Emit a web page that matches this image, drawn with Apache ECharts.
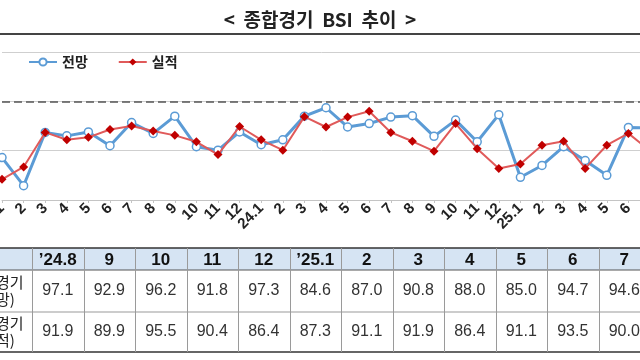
<!DOCTYPE html>
<html>
<head>
<meta charset="utf-8">
<script src="https://cdn.jsdelivr.net/npm/echarts@6/dist/echarts.min.js"></script>
<style>
html,body{margin:0;padding:0;background:#fff;}
#c{width:640px;height:360px;}
</style>
</head>
<body>
<div id="c"></div>
<script>
// ---- data ----
const categories = ['23.1','2','3','4','5','6','7','8','9','10','11','12',
  '24.1','2','3','4','5','6','7','8','9','10','11','12',
  '25.1','2','3','4','5','6','7'];
const forecast = [88.6, 82.9, 93.7, 93.0, 93.8, 91.0, 95.7, 93.5, 97.0, 90.8, 90.1, 93.8,
  91.2, 92.2, 97.0, 98.7, 94.8, 95.5, 96.8, 97.1, 92.9, 96.2, 91.8, 97.3,
  84.6, 87.0, 90.8, 88.0, 85.0, 94.7, 94.6];
const actual = [84.2, 86.7, 93.7, 92.2, 92.7, 94.3, 95.0, 94.0, 93.1, 91.8, 89.2, 94.9,
  92.2, 90.1, 96.9, 94.8, 96.8, 98.0, 93.7, 91.9, 89.9, 95.5, 90.4, 86.4,
  87.3, 91.1, 91.9, 86.4, 91.1, 93.5, 90.0];
const seriesNames = ['전망', '실적'];
const tableCols = ['’24.8','9','10','11','12','’25.1','2','3','4','5','6','7'];
const tableFcst = ['97.1','92.9','96.2','91.8','97.3','84.6','87.0','90.8','88.0','85.0','94.7','94.6'];
const tableAct  = ['91.9','89.9','95.5','90.4','86.4','87.3','91.1','91.9','86.4','91.1','93.5','90.0'];
const rowLabels = ['종합경기\n(전망)', '종합경기\n(실적)'];
const titleText = '<  종합경기  BSI  추이  >';

// ---- table graphics (layout computed) ----
const KR = '"Noto Sans CJK KR", sans-serif';
const NUM = '"Liberation Sans", Arial, sans-serif';
const tTop = 248, hBot = 270, r1Bot = 312, tBot = 352;
const firstL = -40, firstR = 32, colW = 51.5;
const g = [];
// title underline
g.push({type:'line', shape:{x1:0,y1:34,x2:640,y2:34}, style:{stroke:'#444', lineWidth:2}});
// header background
g.push({type:'rect', shape:{x:firstL, y:tTop, width:firstR - firstL + colW*tableCols.length, height:hBot - tTop}, style:{fill:'#d6e4f3'}});
// horizontal lines
[[tTop,'#333',1.5],[hBot,'#555',1],[r1Bot,'#999',1],[tBot,'#333',1.5]].forEach(function(h){
  g.push({type:'line', shape:{x1:firstL,y1:h[0],x2:700,y2:h[0]}, style:{stroke:h[1], lineWidth:h[2]}});
});
// vertical lines
for (let i = 0; i <= tableCols.length; i++) {
  const x = Math.round(firstR + colW*i) + 0.5;
  g.push({type:'line', shape:{x1:x,y1:tTop,x2:x,y2:tBot}, style:{stroke:'#9a9a9a', lineWidth:1}});
}
// row labels
[[hBot, r1Bot],[r1Bot, tBot]].forEach(function(r, k){
  g.push({type:'text', x:(firstL+firstR)/2, y:(r[0]+r[1])/2, style:{text:rowLabels[k], fill:'#222', font:'15px '+KR, align:'center', verticalAlign:'middle', lineHeight:17}});
});
tableCols.forEach(function(c, i){
  const cx = firstR + colW*i + colW/2;
  g.push({type:'text', x:cx, y:(tTop+hBot)/2+1, style:{text:c, fill:'#111', font:'bold 17px '+NUM, align:'center', verticalAlign:'middle'}});
  g.push({type:'text', x:cx, y:(hBot+r1Bot)/2, style:{text:tableFcst[i], fill:'#333', font:'16px '+NUM, align:'center', verticalAlign:'middle'}});
  g.push({type:'text', x:cx, y:(r1Bot+tBot)/2, style:{text:tableAct[i], fill:'#333', font:'16px '+NUM, align:'center', verticalAlign:'middle'}});
});

const chart = echarts.init(document.getElementById('c'), null, {renderer:'canvas'});
chart.setOption({
  animation: false,
  backgroundColor: '#fff',
  title: {
    text: titleText, left: 'center', top: 5,
    textStyle: {fontFamily: KR, fontSize: 19, fontWeight: 'bold', color: '#222'}
  },
  legend: {
    left: 23, top: 50, itemWidth: 28, itemHeight: 9, itemGap: 30,
    textStyle: {fontFamily: KR, fontSize: 14, fontWeight: 'bold', color: '#222'},
    data: seriesNames
  },
  grid: {left: 2, right: -10, top: 52, bottom: 160, outerBoundsMode: 'none', containLabel: false},
  xAxis: {
    type: 'category', data: categories, boundaryGap: false,
    axisLine: {lineStyle: {color: '#c4c4c4', width: 1}},
    axisTick: {show: true, alignWithLabel: true, length: 3, lineStyle: {color: '#c4c4c4'}},
    axisLabel: {interval: 0, rotate: 45, margin: 6, fontFamily: NUM, fontSize: 15, fontWeight: 'bold', color: '#222'}
  },
  yAxis: {
    type: 'value', min: 80, max: 110, interval: 10,
    axisLabel: {show: false}, axisLine: {show: false}, axisTick: {show: false},
    splitLine: {lineStyle: {color: '#cfcfcf', width: 1}}
  },
  series: [
    {
      name: seriesNames[0], type: 'line', data: forecast,
      symbol: 'circle', symbolSize: 8, showAllSymbol: true,
      lineStyle: {color: '#5b9bd5', width: 3},
      itemStyle: {color: '#fff', borderColor: '#5b9bd5', borderWidth: 1.5},
      markLine: {
        silent: true, symbol: 'none', label: {show: false},
        lineStyle: {color: '#555', type: [8, 4], width: 1.5},
        data: [{yAxis: 100}]
      },
      z: 2
    },
    {
      name: seriesNames[1], type: 'line', data: actual,
      symbol: 'diamond', symbolSize: 9, showAllSymbol: true,
      lineStyle: {color: '#e05a5a', width: 2},
      itemStyle: {color: '#c00000'},
      z: 3
    }
  ],
  graphic: g
});
</script>
</body>
</html>
